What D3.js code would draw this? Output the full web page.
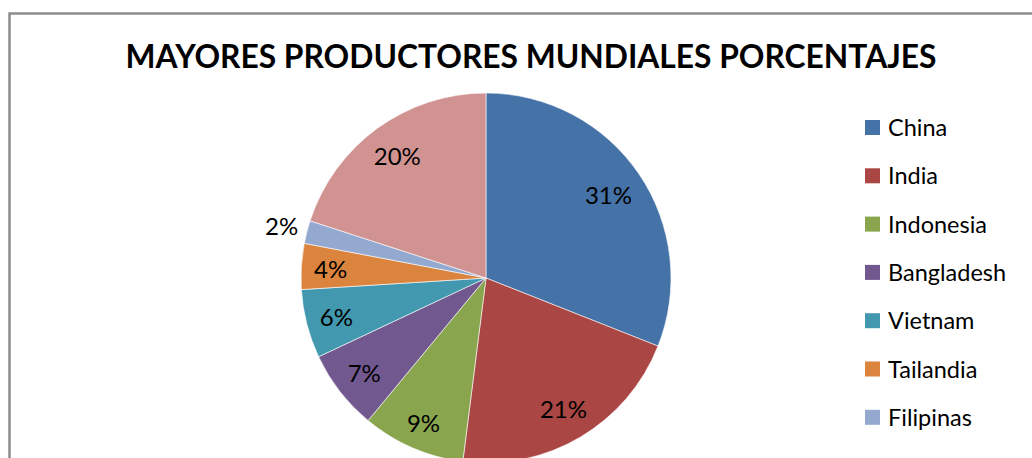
<!DOCTYPE html>
<html lang="es">
<head>
<meta charset="UTF-8">
<title>Mayores productores mundiales</title>
<script src="https://d3js.org/d3.v7.min.js"></script>
<style>
  body { margin: 0; background: #fff; overflow: hidden; }
  svg { display: block; font-family: Lato, "Open Sans", sans-serif; }
</style>
</head>
<body>
<svg id="chart" width="1032" height="458"></svg>
<script>
// data (percent)
const countries = ["China", "India", "Indonesia", "Bangladesh", "Vietnam", "Tailandia", "Filipinas", "Otros"];
const shares = [31, 21, 9, 7, 6, 4, 2, 20];
const colors = ["#4572A7", "#AA4643", "#89A54E", "#71588F", "#4198AF", "#DB843D", "#93A9CF", "#D19392"];
const title = "MAYORES PRODUCTORES MUNDIALES PORCENTAJES";

const W = 1032, H = 458;
const svg = d3.select("#chart");
const cx = 486, cy = 278, r = 185;

// chart frame (runs off the right and bottom edges)
svg.append("rect")
    .attr("x", 9.5).attr("y", 13.5)
    .attr("width", 1200).attr("height", 700)
    .attr("fill", "#fff")
    .attr("stroke", "#8c8c8c")
    .attr("stroke-width", 2.5);

svg.append("text")
    .attr("x", 531).attr("y", 68)
    .attr("text-anchor", "middle")
    .attr("font-size", 32)
    .attr("font-weight", "bold")
    .attr("textLength", 811)
    .attr("lengthAdjust", "spacingAndGlyphs")
    .attr("fill", "#000")
    .text(title);

const data = countries.map((c, i) => ({ name: c, value: shares[i], color: colors[i] }));
const pie = d3.pie().sort(null).value(d => d.value);
const arcs = pie(data);
const arc = d3.arc().innerRadius(0).outerRadius(r);

const g = svg.append("g").attr("transform", `translate(${cx},${cy})`);

g.selectAll("path.slice")
    .data(arcs)
    .enter().append("path")
    .attr("class", "slice")
    .attr("d", arc)
    .attr("fill", d => d.data.color)
    .attr("stroke", "#fff")
    .attr("stroke-width", 0.6);

const total = d3.sum(shares);
const labels = g.selectAll("text.lbl")
    .data(arcs)
    .enter().append("text")
    .attr("class", "lbl")
    .attr("font-size", 24)
    .attr("fill", "#000")
    .attr("text-anchor", "middle")
    .attr("dominant-baseline", "central")
    .text(d => Math.round(d.data.value / total * 100) + "%");

// push each label out until its box just fits inside the slice edge
labels.each(function(d) {
    const w = this.getComputedTextLength();
    const h = 19;
    const a = (d.startAngle + d.endAngle) / 2;
    const ux = Math.sin(a), uy = -Math.cos(a);
    let dist;
    if (d.data.value < 3) {
        dist = r + 26; // too thin, goes outside
    } else {
        const ox = Math.sign(ux) * w / 2, oy = Math.sign(uy) * h / 2;
        const b = ux * ox + uy * oy;
        const target = r - 12;
        const c = ox * ox + oy * oy - target * target;
        dist = -b + Math.sqrt(b * b - c);
    }
    d3.select(this).attr("x", ux * dist).attr("y", uy * dist);
});

// legend - entries below the visible area are clipped like in the original
const legendTop = 120, step = 48.3;
const shown = data.filter((d, i) => legendTop + i * step + 15 < H);
const legend = svg.append("g").attr("transform", `translate(865,${legendTop})`);
const item = legend.selectAll("g")
    .data(shown)
    .enter().append("g")
    .attr("transform", (d, i) => `translate(0,${i * step})`);

item.append("rect")
    .attr("width", 15).attr("height", 15)
    .attr("fill", d => d.color);

item.append("text")
    .attr("x", 23).attr("y", 16)
    .attr("font-size", 23.5)
    .attr("fill", "#000")
    .text(d => d.name);
</script>
</body>
</html>
